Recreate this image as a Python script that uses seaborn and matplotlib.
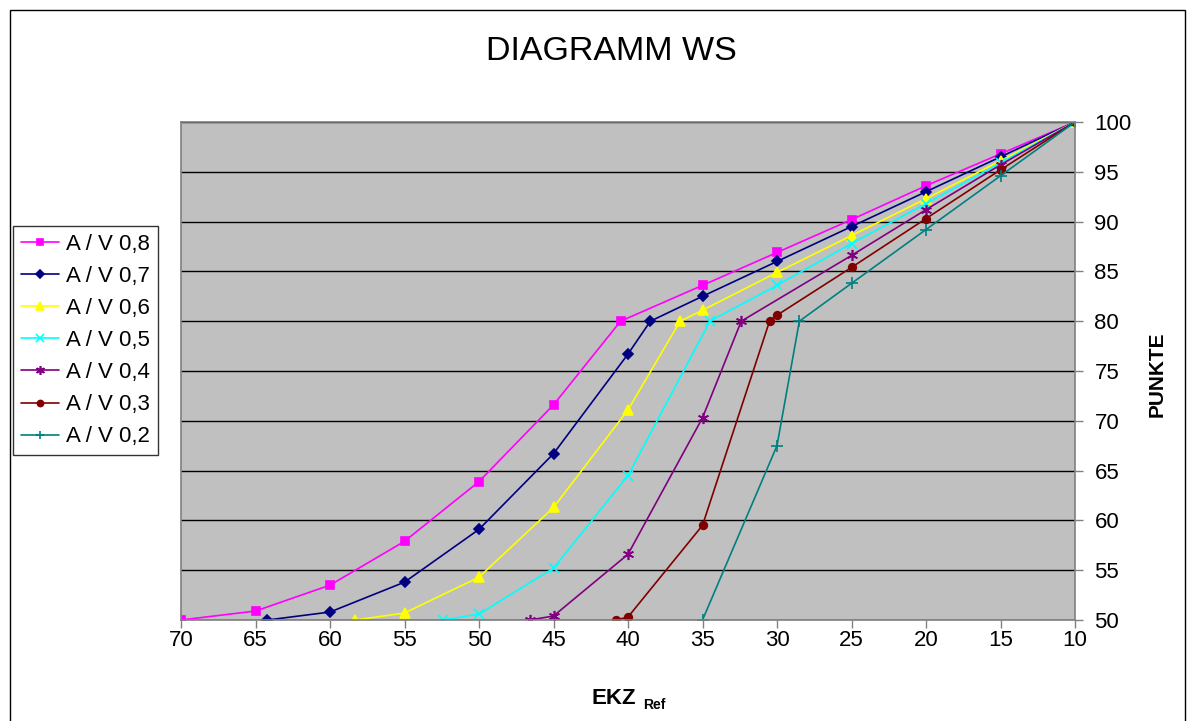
import matplotlib
matplotlib.use("Agg")
import matplotlib.pyplot as plt
from matplotlib.patches import Rectangle
import seaborn as sns
import pandas as pd

# series (EKZ_Ref -> Punkte)
av08_x = [70, 65, 60, 55, 50, 45, 40.5, 35, 30, 25, 20, 15, 10]
av08_y = [50, 50.9, 53.5, 57.9, 63.9, 71.6, 80, 83.6, 86.9, 90.2, 93.6, 96.8, 100]
av07_x = [64.2, 60, 55, 50, 45, 40, 38.5, 35, 30, 25, 20, 15, 10]
av07_y = [50, 50.8, 53.8, 59.1, 66.7, 76.7, 80, 82.5, 86.0, 89.5, 93.0, 96.5, 100]
av06_x = [58.3, 55, 50, 45, 40, 36.5, 35, 30, 25, 20, 15, 10]
av06_y = [50, 50.7, 54.3, 61.3, 71.1, 80, 81.1, 84.9, 88.6, 92.3, 96.1, 100]
av05_x = [52.4, 50, 45, 40, 34.5, 30, 25, 20, 15, 10]
av05_y = [50, 50.6, 55.2, 64.5, 80, 83.6, 87.8, 91.8, 95.9, 100]
av04_x = [46.6, 45, 40, 35, 32.4, 25, 20, 15, 10]
av04_y = [50, 50.4, 56.6, 70.3, 80, 86.6, 91.2, 95.7, 100]
av03_x = [40.8, 40, 35, 30.5, 30, 25, 20, 15, 10]
av03_y = [50, 50.3, 59.5, 80, 80.6, 85.4, 90.3, 95.2, 100]
av02_x = [35, 30, 28.5, 25, 20, 15, 10]
av02_y = [50, 67.5, 80, 83.8, 89.2, 94.6, 100]

labels = ["A / V 0,8", "A / V 0,7", "A / V 0,6", "A / V 0,5",
          "A / V 0,4", "A / V 0,3", "A / V 0,2"]
xs = [av08_x, av07_x, av06_x, av05_x, av04_x, av03_x, av02_x]
ys = [av08_y, av07_y, av06_y, av05_y, av04_y, av03_y, av02_y]
colors = ["#FF00FF", "#000080", "#FFFF00", "#00FFFF", "#800080", "#800000", "#008080"]
markers = ["s", "D", "^", "x", (6, 2, 0), "o", "+"]
msizes = [5.5, 5, 6.5, 6.5, 8, 5.5, 8]
xticks = [70, 65, 60, 55, 50, 45, 40, 35, 30, 25, 20, 15, 10]
yticks = [50, 55, 60, 65, 70, 75, 80, 85, 90, 95, 100]

sns.set_theme(style="white")
plt.rcParams["font.family"] = ["Liberation Sans", "DejaVu Sans"]
plt.rcParams["text.color"] = "black"

fig = plt.figure(figsize=(11.87, 7.21), dpi=100)
ax = fig.add_axes([181 / 1187, 1 - 620 / 721, 894 / 1187, 498 / 721])
ax.set_facecolor("#C0C0C0")

for lab, x, y, c, m, ms in zip(labels, xs, ys, colors, markers, msizes):
    d = pd.DataFrame({"ekz": x, "punkte": y})
    sns.lineplot(data=d, x="ekz", y="punkte", sort=False, estimator=None,
                 color=c, marker=m, markersize=ms, mec=c, mfc=c, mew=1.2,
                 linewidth=1.2, label=lab, ax=ax)

ax.set_xlim(70, 10)
ax.set_ylim(50, 100)
ax.set_xticks(xticks)
ax.set_yticks(yticks)
ax.yaxis.tick_right()
ax.yaxis.grid(True, color="black", linewidth=1)
ax.xaxis.grid(False)
ax.set_axisbelow(True)
for s in ax.spines.values():
    s.set_color("#808080")
    s.set_linewidth(1.2)
ax.tick_params(axis="x", bottom=True, length=6, width=1, color="#808080",
               labelcolor="black", pad=1, labelsize=16)
ax.tick_params(axis="y", right=True, left=False, length=6, width=1,
               color="#808080", labelcolor="black", pad=8, labelsize=16)
ax.set_xlabel("")
ax.set_ylabel("")

fig.text(1157 / 1187, 1 - 374 / 721, "PUNKTE", rotation=90, ha="center",
         va="center", fontsize=15, fontweight="bold", color="black")
fig.text(636 / 1187, 1 - 704 / 721, "EKZ", ha="right", va="baseline",
         fontsize=16, fontweight="bold", color="black")
fig.text(643 / 1187, 1 - 709 / 721, "Ref", ha="left", va="baseline",
         fontsize=10, fontweight="bold", color="black")
fig.text(611 / 1187, 1 - 51 / 721, "DIAGRAMM WS", ha="center", va="center",
         fontsize=24.5, color="black")

leg = ax.legend(loc="upper left", bbox_to_anchor=(13 / 1187, 1 - 226 / 721),
                bbox_transform=fig.transFigure, borderaxespad=0, fontsize=16,
                frameon=True, fancybox=False, handlelength=1.7,
                handletextpad=0.35, labelspacing=0.5, borderpad=0.35,
                markerscale=0.8)
leg.get_frame().set_edgecolor("black")
leg.get_frame().set_linewidth(1)
for t in leg.get_texts():
    t.set_color("black")

fig.patches.append(Rectangle((10 / 1187, -0.05), 1175 / 1187, 1.05 - 10 / 721,
                             transform=fig.transFigure, fill=False,
                             edgecolor="black", linewidth=1))

fig.savefig("out.png", dpi=100)
